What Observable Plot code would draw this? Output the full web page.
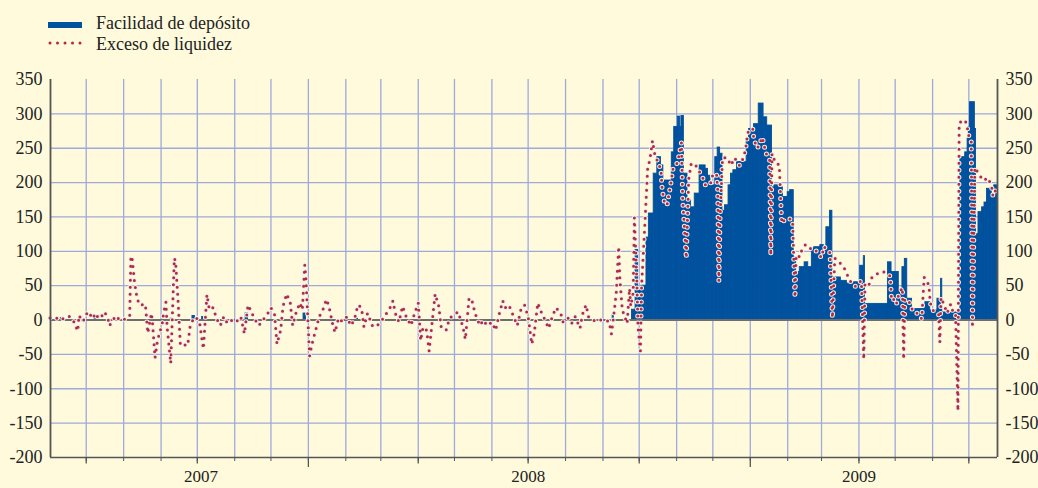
<!DOCTYPE html>
<html><head><meta charset="utf-8">
<script src="https://cdn.jsdelivr.net/npm/d3@7"></script>
<script src="https://cdn.jsdelivr.net/npm/@observablehq/plot@0.6"></script>
<style>
html,body{margin:0;padding:0;background:#fffadc;}
#wrap{width:1038px;height:488px;overflow:hidden;background:#fffadc;font-family:"Liberation Serif","Times New Roman",serif;}
#wrap svg{display:block;}
</style></head><body><div id="wrap"></div>
<script>
// ---- data ----
const legendLabels = ["Facilidad de depósito", "Exceso de liquidez"];
const yTicks = [-200, -150, -100, -50, 0, 50, 100, 150, 200, 250, 300, 350];
const gridValues = [-150, -100, -50, 50, 100, 150, 200, 250, 300];
const yearLabels = ["2007", "2008", "2009"];
const yearLabelDates = ["2007-10-04", "2008-07-01", "2009-04-01"];
const xDomain = ["2007-06-01T10:00Z", "2009-07-24T18:00Z"];

// deposit facility: [from, to (exclusive), EUR bn]
const depositFacility = [
  ["2007-06-10","2007-06-12",3],["2007-07-08","2007-07-09",1.5],["2007-07-27","2007-07-28",2.5],
  ["2007-09-09","2007-09-10",2],["2007-09-27","2007-09-29",6],["2007-10-05","2007-10-06",4.5],
  ["2007-11-10","2007-11-12",9.5],["2007-12-28","2007-12-30",9.5],["2008-02-10","2008-02-11",2],
  ["2008-09-09","2008-09-10",7],["2008-09-25","2008-09-28",15],
  ["2008-09-28","2008-09-30",102],["2008-09-30","2008-10-03",46],["2008-10-03","2008-10-07",50],
  ["2008-10-07","2008-10-09",120],["2008-10-09","2008-10-13",155],["2008-10-13","2008-10-16",213],
  ["2008-10-16","2008-10-19",237],["2008-10-19","2008-10-21",225],["2008-10-21","2008-10-28",203],
  ["2008-10-28","2008-10-30",244],["2008-10-30","2008-11-02",281],["2008-11-02","2008-11-04",296],
  ["2008-11-04","2008-11-05",281],["2008-11-05","2008-11-07",297],["2008-11-07","2008-11-10",213],
  ["2008-11-10","2008-11-13",174],["2008-11-13","2008-11-16",164],["2008-11-16","2008-11-20",184],
  ["2008-11-20","2008-11-25",225],["2008-11-25","2008-11-27",220],["2008-11-27","2008-11-29",210],
  ["2008-11-29","2008-12-03",196],["2008-12-03","2008-12-05",237],["2008-12-05","2008-12-07",251],
  ["2008-12-07","2008-12-09",242],["2008-12-09","2008-12-11",159],["2008-12-11","2008-12-14",167],
  ["2008-12-14","2008-12-16",196],["2008-12-16","2008-12-18",213],["2008-12-18","2008-12-21",218],
  ["2008-12-21","2008-12-29",230],["2008-12-29","2008-12-31",261],["2008-12-31","2009-01-04",278],
  ["2009-01-04","2009-01-08",285],["2009-01-08","2009-01-12",315],["2009-01-12","2009-01-15",295],
  ["2009-01-15","2009-01-19",283],["2009-01-19","2009-01-21",193],["2009-01-21","2009-01-25",196],
  ["2009-01-25","2009-01-28",193],["2009-01-28","2009-02-01",179],["2009-02-01","2009-02-03",186],
  ["2009-02-03","2009-02-06",189],["2009-02-06","2009-02-08",91],["2009-02-08","2009-02-11",70],
  ["2009-02-11","2009-02-15",77],["2009-02-15","2009-02-18",84],["2009-02-18","2009-02-21",77],
  ["2009-02-21","2009-02-23",104],["2009-02-23","2009-02-28",106],["2009-02-28","2009-03-03",109],
  ["2009-03-03","2009-03-05",102],["2009-03-05","2009-03-08",135],["2009-03-08","2009-03-10",159],
  ["2009-03-10","2009-03-17",62],["2009-03-17","2009-03-22",57],["2009-03-22","2009-03-28",53],
  ["2009-03-28","2009-04-02",55],["2009-04-02","2009-04-05",79],["2009-04-05","2009-04-06",93],
  ["2009-04-06","2009-04-25",23.5],["2009-04-25","2009-04-28",84],["2009-04-28","2009-05-04",70],
  ["2009-05-04","2009-05-07",43],["2009-05-07","2009-05-09",77],["2009-05-09","2009-05-11",89],
  ["2009-05-11","2009-05-15",31],["2009-05-15","2009-05-26",16],["2009-05-26","2009-05-30",26],
  ["2009-05-30","2009-06-05",14],["2009-06-05","2009-06-08",31],["2009-06-08","2009-06-09",60],
  ["2009-06-09","2009-06-24",11],["2009-06-24","2009-06-28",237],["2009-06-28","2009-06-30",244],
  ["2009-06-30","2009-07-01",264],["2009-07-01","2009-07-02",281],["2009-07-02","2009-07-06",317],
  ["2009-07-06","2009-07-07",278],["2009-07-07","2009-07-09",125],["2009-07-09","2009-07-12",157],
  ["2009-07-12","2009-07-14",164],["2009-07-14","2009-07-16",171],["2009-07-16","2009-07-20",191],
  ["2009-07-20","2009-07-22",181],["2009-07-22","2009-07-25",196]
];

// excess liquidity: [date, EUR bn]
const excessLiquidity = [
  ["2007-06-01",3],["2007-06-06",2],["2007-06-08",4],["2007-06-11",1],["2007-06-15",5],["2007-06-17",5],
  ["2007-06-20",1],["2007-06-22",-8],["2007-06-24",-16],["2007-06-25",7],["2007-06-28",-2],["2007-06-30",2],
  ["2007-07-02",12],["2007-07-04",9],["2007-07-06",2],["2007-07-09",10],["2007-07-11",2],["2007-07-14",6],
  ["2007-07-16",12],["2007-07-19",3],["2007-07-20",-8],["2007-07-23",-2],["2007-07-25",6],["2007-07-29",0],
  ["2007-08-01",0],["2007-08-04",5],["2007-08-06",6],["2007-08-07",93],["2007-08-08",90],["2007-08-10",55],
  ["2007-08-12",33],["2007-08-14",22],["2007-08-16",22],["2007-08-19",23],["2007-08-21",-19],["2007-08-24",10],
  ["2007-08-25",-6],["2007-08-27",-55],["2007-08-29",-30],
  ["2007-09-02",-5],["2007-09-03",10],["2007-09-05",26],["2007-09-06",-10],["2007-09-09",-63],["2007-09-12",90],
  ["2007-09-13",85],["2007-09-15",30],["2007-09-17",-37],["2007-09-20",-36],["2007-09-23",-37],["2007-09-25",-10],
  ["2007-09-28",3],["2007-09-30",4],
  ["2007-10-03",-5],["2007-10-06",-42],["2007-10-09",37],["2007-10-11",15],["2007-10-14",18],["2007-10-17",2],
  ["2007-10-20",-8],["2007-10-23",5],["2007-10-26",-5],["2007-10-30",0],
  ["2007-11-02",-3],["2007-11-06",5],["2007-11-09",-20],["2007-11-12",22],["2007-11-14",15],["2007-11-17",3],
  ["2007-11-21",-8],["2007-11-24",0],["2007-11-27",5],
  ["2007-12-01",18],["2007-12-04",8],["2007-12-06",-35],["2007-12-09",-15],["2007-12-11",20],["2007-12-14",38],
  ["2007-12-17",25],["2007-12-19",-8],["2007-12-22",12],["2007-12-25",25],["2007-12-27",15],["2007-12-29",80],
  ["2007-12-30",60],
  ["2008-01-02",-52],["2008-01-04",-35],["2008-01-07",-15],["2008-01-10",5],["2008-01-13",15],["2008-01-16",30],
  ["2008-01-18",20],["2008-01-21",-5],["2008-01-23",-18],["2008-01-26",3],["2008-01-29",-2],
  ["2008-02-02",5],["2008-02-05",-8],["2008-02-08",0],["2008-02-11",22],["2008-02-14",18],["2008-02-16",-10],
  ["2008-02-19",10],["2008-02-23",-8],["2008-02-26",-10],
  ["2008-03-02",0],["2008-03-05",8],["2008-03-08",15],["2008-03-11",28],["2008-03-13",10],["2008-03-16",-3],
  ["2008-03-19",20],["2008-03-22",5],["2008-03-26",-8],["2008-03-29",10],
  ["2008-04-01",25],["2008-04-03",-30],["2008-04-05",-10],["2008-04-08",-15],["2008-04-10",-45],["2008-04-13",5],
  ["2008-04-15",38],["2008-04-18",20],["2008-04-20",-10],["2008-04-24",-15],["2008-04-27",3],
  ["2008-05-01",8],["2008-05-04",12],["2008-05-08",-10],["2008-05-10",-28],["2008-05-13",30],["2008-05-15",32],
  ["2008-05-18",10],["2008-05-22",-8],["2008-05-25",0],["2008-05-28",-8],
  ["2008-06-01",-3],["2008-06-04",-15],["2008-06-07",8],["2008-06-10",28],["2008-06-12",18],["2008-06-15",22],
  ["2008-06-19",5],["2008-06-22",-8],["2008-06-25",15],["2008-06-28",22],
  ["2008-07-01",5],["2008-07-04",-35],["2008-07-06",-20],["2008-07-09",25],["2008-07-11",15],["2008-07-15",0],
  ["2008-07-18",-12],["2008-07-21",5],["2008-07-24",18],["2008-07-28",10],["2008-07-30",-3],
  ["2008-08-03",3],["2008-08-06",-5],["2008-08-09",5],["2008-08-13",-12],["2008-08-15",8],["2008-08-18",22],
  ["2008-08-20",5],["2008-08-23",0],["2008-08-27",-2],["2008-08-30",0],
  ["2008-09-03",0],["2008-09-06",-2],["2008-09-08",-20],["2008-09-10",8],["2008-09-12",40],["2008-09-14",107],
  ["2008-09-15",60],["2008-09-17",15],["2008-09-19",5],["2008-09-21",-5],["2008-09-23",46],["2008-09-24",20],
  ["2008-09-26",40],["2008-09-27",149],["2008-09-29",60],["2008-09-30",-10],
  ["2008-10-02",-45],["2008-10-03",50],["2008-10-06",150],["2008-10-08",220],["2008-10-10",235],["2008-10-12",261],
  ["2008-10-14",240],["2008-10-17",228],["2008-10-19",218],["2008-10-20",190],["2008-10-22",170],["2008-10-24",167],
  ["2008-10-27",196],["2008-10-29",220],["2008-10-31",223],
  ["2008-11-02",231],["2008-11-05",258],["2008-11-06",175],["2008-11-09",90],["2008-11-11",205],["2008-11-13",227],
  ["2008-11-16",228],["2008-11-19",218],["2008-11-22",210],["2008-11-25",196],["2008-11-29",198],
  ["2008-12-01",212],["2008-12-04",213],["2008-12-05",190],["2008-12-06",57],["2008-12-07",150],["2008-12-09",236],
  ["2008-12-13",236],["2008-12-16",225],["2008-12-19",236],["2008-12-23",225],["2008-12-26",235],["2008-12-28",247],
  ["2008-12-30",273],
  ["2009-01-03",279],["2009-01-04",262],["2009-01-07",250],["2009-01-09",258],["2009-01-11",266],["2009-01-13",250],
  ["2009-01-15",238],["2009-01-17",233],["2009-01-18",94],["2009-01-19",242],["2009-01-22",228],["2009-01-25",226],
  ["2009-01-27",141],["2009-01-30",147],
  ["2009-02-02",148],["2009-02-05",145],["2009-02-07",33],["2009-02-08",95],["2009-02-11",92],["2009-02-13",104],
  ["2009-02-16",110],["2009-02-20",104],["2009-02-23",104],["2009-02-26",97],
  ["2009-03-01",91],["2009-03-03",107],["2009-03-06",101],["2009-03-08",98],["2009-03-10",3],["2009-03-12",90],
  ["2009-03-15",85],["2009-03-18",80],["2009-03-21",72],["2009-03-23",63],["2009-03-26",53],["2009-03-29",49],
  ["2009-04-01",55],["2009-04-03",57],["2009-04-05",-57],["2009-04-06",53],["2009-04-09",50],["2009-04-12",63],
  ["2009-04-15",66],["2009-04-19",70],["2009-04-22",70],["2009-04-25",66],["2009-04-27",64],["2009-04-28",28],
  ["2009-04-30",30],
  ["2009-05-02",23],["2009-05-04",38],["2009-05-07",47],["2009-05-08",-57],["2009-05-09",30],["2009-05-12",29],
  ["2009-05-15",16],["2009-05-18",14],["2009-05-20",6],["2009-05-23",2],["2009-05-25",62],["2009-05-27",58],
  ["2009-05-29",50],["2009-05-30",25],
  ["2009-06-02",12],["2009-06-04",10],["2009-06-06",8],["2009-06-07",-32],["2009-06-08",33],["2009-06-11",20],
  ["2009-06-13",10],["2009-06-16",23],["2009-06-18",11],["2009-06-20",10],["2009-06-22",-132],["2009-06-23",287],
  ["2009-06-26",290],["2009-06-28",291],["2009-06-30",278],
  ["2009-07-01",268],["2009-07-03",262],["2009-07-04",-11],["2009-07-06",222],["2009-07-09",213],["2009-07-13",203],
  ["2009-07-17",207],["2009-07-20",193],["2009-07-21",180],["2009-07-23",188]
];

// ---- styles ----
const BLUE = "#00519e", RED = "#b42c38", GRID = "#9ea9dc", AXIS = "#555555";
const FONT = "'Liberation Serif','Times New Roman',serif";
const parse = d3.utcParse("%Y-%m-%d");
const dom = xDomain.map(s => new Date(s));

const months = d3.utcMonth.range(parse("2007-07-01"), parse("2009-07-02"));
const quarters = months.filter(d => d.getUTCMonth() % 3 === 0 && d.getUTCMonth() !== 0);
const yearStarts = months.filter(d => d.getUTCMonth() === 0);

// legend
const leg = d3.create("svg").attr("width", 1038).attr("height", 56);
leg.append("rect").attr("x", 48).attr("y", 22).attr("width", 34).attr("height", 6).attr("fill", BLUE);
leg.append("line").attr("x1", 50).attr("x2", 82).attr("y1", 43).attr("y2", 43)
  .attr("stroke", RED).attr("stroke-width", 3).attr("stroke-dasharray", "0 7.5").attr("stroke-linecap", "round");
legendLabels.forEach((t, i) => {
  leg.append("text").attr("x", 96).attr("y", i ? 50 : 28.5)
    .attr("font-family", FONT).attr("font-size", 18).attr("fill", "#222").text(t);
});

const ax = d => parse(d[0]);
const chart = Plot.plot({
  width: 1038, height: 432,
  marginTop: 23, marginBottom: 31, marginLeft: 50, marginRight: 41,
  style: {background: "transparent", fontFamily: FONT, fontSize: "18px", color: "#222"},
  x: {type: "utc", domain: dom, axis: null},
  y: {domain: [-200, 350], axis: null},
  marks: [
    Plot.ruleY(gridValues, {stroke: GRID, strokeWidth: 1.3}),
    Plot.ruleX(months, {stroke: GRID, strokeWidth: 1.3}),
    Plot.rect(depositFacility, {x1: d => parse(d[0]), x2: d => parse(d[1]), y1: 0, y2: d => d[2],
      fill: BLUE, stroke: BLUE, strokeWidth: 0.9}),
    Plot.ruleY([0], {stroke: "#6e6e6e", strokeWidth: 2}),
    Plot.line(excessLiquidity, {x: ax, y: d => d[1], stroke: "#eeeef2", strokeWidth: 5,
      strokeDasharray: "0 7", strokeLinecap: "round"}),
    Plot.line(excessLiquidity, {x: ax, y: d => d[1], stroke: RED, strokeWidth: 3,
      strokeDasharray: "0 7", strokeLinecap: "round"}),
    Plot.ruleY([-200], {stroke: AXIS, strokeWidth: 1.6}),
    Plot.ruleX(dom, {stroke: AXIS, strokeWidth: 1.8}),
    Plot.axisY({anchor: "left", ticks: yTicks, tickSize: 0, tickPadding: 8, tickFormat: d => String(d), fontSize: 18}),
    Plot.axisY({anchor: "right", ticks: yTicks, tickSize: 0, tickPadding: 8, tickFormat: d => String(d), fontSize: 18}),
    Plot.axisX({ticks: months, tickSize: 4, stroke: AXIS, fill: "none", tickFormat: () => ""}),
    Plot.axisX({ticks: quarters, tickSize: 6.5, stroke: AXIS, strokeWidth: 1.3, fill: "none", tickFormat: () => ""}),
    Plot.axisX({ticks: yearStarts, tickSize: 10, stroke: AXIS, strokeWidth: 1.3, fill: "none", tickFormat: () => ""}),
    Plot.text(yearLabels, {x: (d, i) => parse(yearLabelDates[i]), y: -200, text: d => d, dy: 12,
      lineAnchor: "top", fontSize: 17, fill: "#222"})
  ]
});

const wrap = document.getElementById("wrap");
wrap.appendChild(leg.node());
wrap.appendChild(chart);
</script></body></html>
